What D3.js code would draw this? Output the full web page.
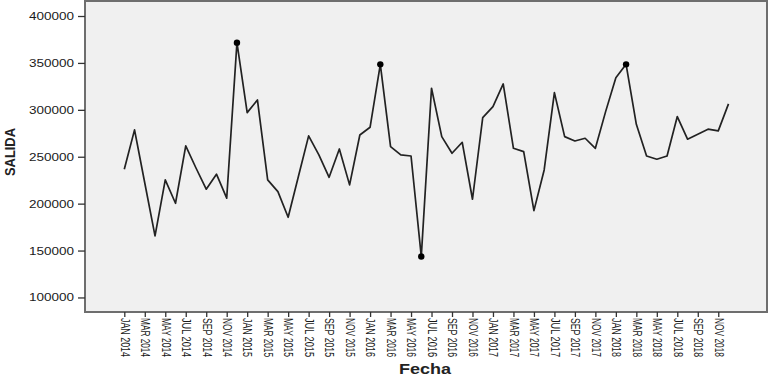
<!DOCTYPE html>
<html><head><meta charset="utf-8">
<script src="https://cdn.jsdelivr.net/npm/d3@7"></script>
<style>
html,body{margin:0;padding:0;background:#fff;}
svg{display:block;}
</style></head>
<body>
<svg id="chart" width="769" height="376"></svg>
<script>
const months = ["JAN","FEB","MAR","APR","MAY","JUN","JUL","AUG","SEP","OCT","NOV","DEC"];
const years = [2014, 2015, 2016, 2017, 2018];
const categories = years.flatMap(y => months.map(m => m + " " + y));
const salida = [
  236700, 278600, 222000, 165600, 225300, 200400, 261500, 238000, 215400, 231400, 205800, 371600,
  297000, 310500, 225300, 212800, 185500, 229000, 272200, 251900, 228100, 258300, 220000, 273200,
  281400, 348500, 260800, 251900, 250800, 143600, 323000, 271400, 253700, 265400, 204700, 291700,
  303400, 327600, 259000, 255500, 192600, 235900, 318300, 271400, 266800, 269700, 259000, 298100,
  334300, 348500, 284600, 250800, 247300, 250800, 292800, 268700, 274000, 279400, 277600, 306300
];
const markedCategories = ["DEC 2014", "FEB 2016", "JUN 2016", "FEB 2018"];
const yTicks = [100000, 150000, 200000, 250000, 300000, 350000, 400000];
const xTickLabels = categories.filter((c, i) => i % 2 === 0);

(function () {
const svg = d3.select("#chart");
const pL = 85, pR = 767, pT = 1, pB = 312;

const x = d3.scalePoint().domain(categories).range([124.3, 728.5]);
const y = d3.scaleLinear().domain([84500, 416000]).range([pB, pT]);

// plot background + frame
svg.append("rect").attr("x", pL).attr("y", pT).attr("width", pR - pL).attr("height", pB - pT)
  .attr("fill", "#f0f0f0").attr("stroke", "#6e6e6e").attr("stroke-width", 2);

// y axis
const yAxis = svg.append("g").attr("transform", `translate(${pL},0)`)
  .call(d3.axisLeft(y).tickValues(yTicks).tickSize(7).tickSizeOuter(0).tickPadding(4).tickFormat(d3.format("d")));
yAxis.select(".domain").remove();
yAxis.selectAll("line").attr("stroke", "#333").attr("stroke-width", 1.3);
yAxis.selectAll("text").attr("font-family", "Liberation Sans, Arial, sans-serif").attr("font-size", 10)
  .attr("fill", "#1a1a1a").attr("textLength", 45).attr("lengthAdjust", "spacingAndGlyphs").attr("dy", "0.35em");

// x axis
const xAxis = svg.append("g").attr("transform", `translate(0,${pB})`)
  .call(d3.axisBottom(x).tickValues(xTickLabels).tickSize(5).tickSizeOuter(0));
xAxis.select(".domain").remove();
xAxis.selectAll("line").attr("stroke", "#333").attr("stroke-width", 1.3);
xAxis.selectAll("text")
  .attr("font-family", "Liberation Sans Narrow, Liberation Sans, Arial, sans-serif")
  .attr("font-size", 12).attr("fill", "#1a1a1a")
  .attr("text-anchor", "start")
  .attr("transform", "rotate(90)")
  .attr("x", 6).attr("y", 0).attr("dy", "0.35em")
  .attr("textLength", 39).attr("lengthAdjust", "spacingAndGlyphs");

// line
const line = d3.line().x((d, i) => x(categories[i])).y(d => y(d));
svg.append("path").datum(salida).attr("d", line)
  .attr("fill", "none").attr("stroke", "#222").attr("stroke-width", 1.7).attr("stroke-linejoin", "round");

// markers
svg.append("g").selectAll("circle").data(markedCategories).join("circle")
  .attr("cx", c => x(c)).attr("cy", c => y(salida[categories.indexOf(c)]))
  .attr("r", 3.2).attr("fill", "#000");

// axis titles
svg.append("text").attr("transform", `translate(15,152) rotate(-90)`)
  .attr("text-anchor", "middle").attr("font-family", "Liberation Sans, Arial, sans-serif")
  .attr("font-weight", "bold").attr("font-size", 15).attr("fill", "#222")
  .attr("textLength", 48).attr("lengthAdjust", "spacingAndGlyphs").text("SALIDA");
svg.append("text").attr("x", 425).attr("y", 374)
  .attr("text-anchor", "middle").attr("font-family", "Liberation Sans, Arial, sans-serif")
  .attr("font-weight", "bold").attr("font-size", 14).attr("fill", "#222")
  .attr("textLength", 52).attr("lengthAdjust", "spacingAndGlyphs").text("Fecha");
})();
</script>
</body></html>
